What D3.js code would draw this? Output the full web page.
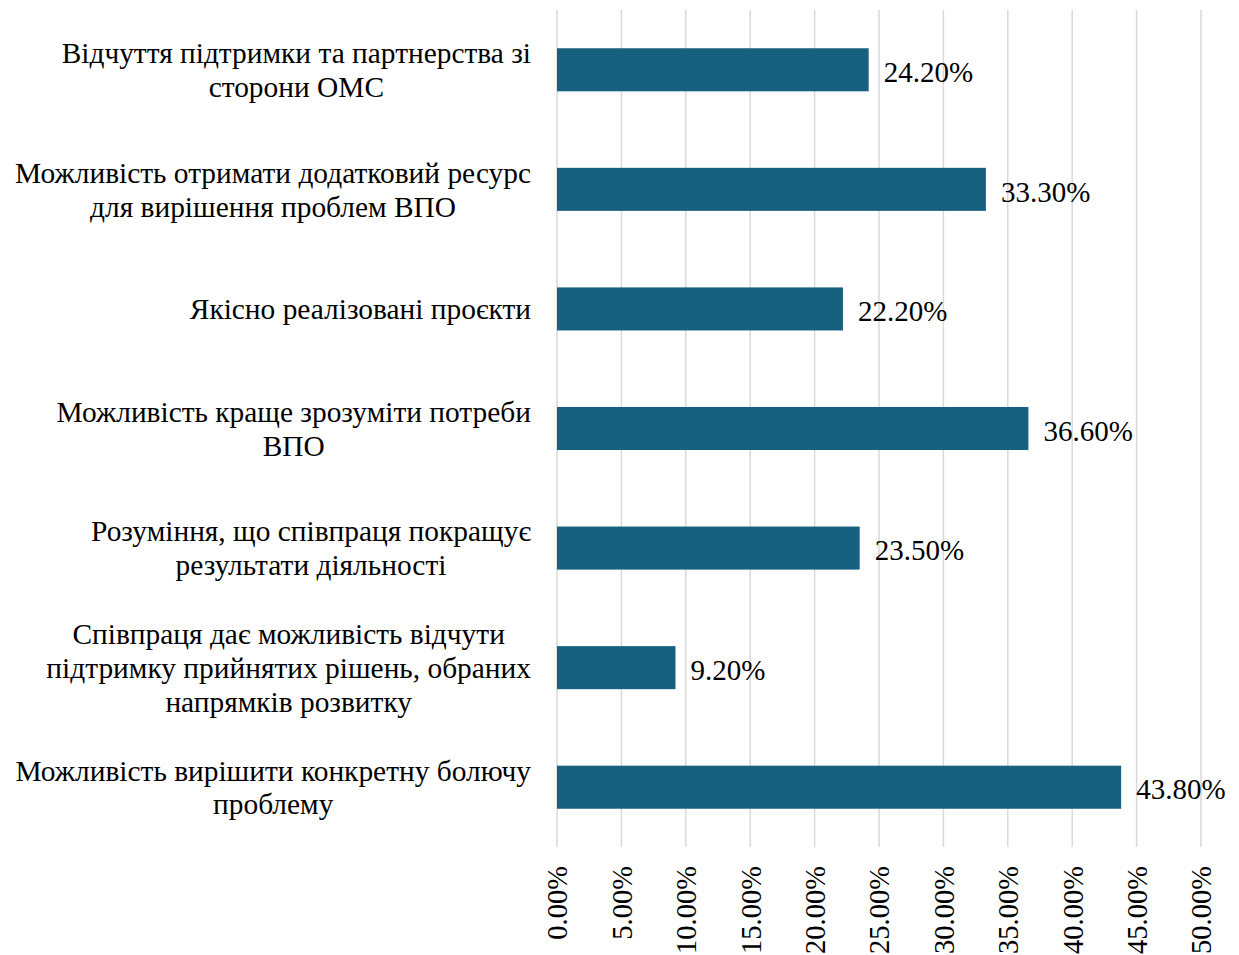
<!DOCTYPE html>
<html>
<head>
<meta charset="utf-8">
<script src="https://cdn.jsdelivr.net/npm/d3@7"></script>
<style>
  html, body { margin: 0; padding: 0; background: #ffffff; }
  svg { display: block; }
  text { font-family: "Liberation Serif", "Times New Roman", serif; fill: #000; }
</style>
</head>
<body>
<svg id="chart" width="1239" height="955"></svg>
<script>
// Category labels, each split into its display lines
const categories = [
  ["Відчуття підтримки та партнерства зі", "сторони ОМС"],
  ["Можливість отримати додатковий ресурс", "для вирішення проблем ВПО"],
  ["Якісно реалізовані проєкти"],
  ["Можливість краще зрозуміти потреби", "ВПО"],
  ["Розуміння, що співпраця покращує", "результати діяльності"],
  ["Співпраця дає можливість відчути", "підтримку прийнятих рішень, обраних", "напрямків розвитку"],
  ["Можливість вирішити конкретну болючу", "проблему"]
];
const values = [24.2, 33.3, 22.2, 36.6, 23.5, 9.2, 43.8];
const tickValues = [0, 5, 10, 15, 20, 25, 30, 35, 40, 45, 50];

const svg = d3.select("#chart");
const margin = { left: 557, right: 38, top: 10, bottom: 108 };
const W = 1239, H = 955;

const x = d3.scaleLinear().domain([0, 50]).range([margin.left, W - margin.right]);
const y = d3.scaleBand()
  .domain(d3.range(categories.length))
  .range([margin.top, H - margin.bottom])
  .paddingInner(0.64)
  .paddingOuter(0.32);

// vertical gridlines
svg.append("g")
  .selectAll("line")
  .data(tickValues)
  .join("line")
  .attr("x1", d => x(d)).attr("x2", d => x(d))
  .attr("y1", margin.top).attr("y2", H - margin.bottom)
  .attr("stroke", "#d9d9d9")
  .attr("stroke-width", 1.5);

// bars
svg.append("g")
  .selectAll("rect")
  .data(values)
  .join("rect")
  .attr("x", x(0))
  .attr("y", (d, i) => y(i))
  .attr("width", d => x(d) - x(0))
  .attr("height", y.bandwidth())
  .attr("fill", "#17607f");

// value labels
svg.append("g")
  .selectAll("text")
  .data(values)
  .join("text")
  .attr("x", d => x(d) + 15)
  .attr("y", (d, i) => y(i) + y.bandwidth() / 2)
  .attr("dy", "0.42em")
  .style("font-size", "29px")
  .text(d => d.toFixed(2) + "%");

// category labels: lines centred within a block whose right edge is fixed
const lineH = 34;
const labelRight = 531;
const cat = svg.append("g")
  .selectAll("text")
  .data(categories)
  .join("text")
  .attr("text-anchor", "middle")
  .style("font-size", "29.4px");
cat.selectAll("tspan")
  .data(d => d.map((t, k) => ({ t, k, n: d.length })))
  .join("tspan")
  .attr("x", 0)
  .attr("y", d => (d.k - (d.n - 1) / 2) * lineH)
  .attr("dy", "0.35em")
  .text(d => d.t);
cat.attr("transform", function (d, i) {
  const widths = [];
  d3.select(this).selectAll("tspan").each(function () { widths.push(this.getComputedTextLength()); });
  const cx = labelRight - d3.max(widths) / 2;
  return `translate(${cx},${y(i) + y.bandwidth() / 2})`;
});

// x axis tick labels, rotated
const axis = d3.axisBottom(x)
  .tickValues(tickValues)
  .tickFormat(d => d.toFixed(2) + "%")
  .tickSize(0);
const ax = svg.append("g")
  .attr("transform", `translate(0,${H - margin.bottom})`)
  .call(axis);
ax.select(".domain").remove();
ax.selectAll("text")
  .style("font-size", "28.5px")
  .style("font-family", "'Liberation Serif', 'Times New Roman', serif")
  .attr("fill", "#000")
  .attr("text-anchor", "end")
  .attr("transform", "rotate(-90)")
  .attr("x", -19)
  .attr("y", 0)
  .attr("dy", "0.35em");
</script>
</body>
</html>
